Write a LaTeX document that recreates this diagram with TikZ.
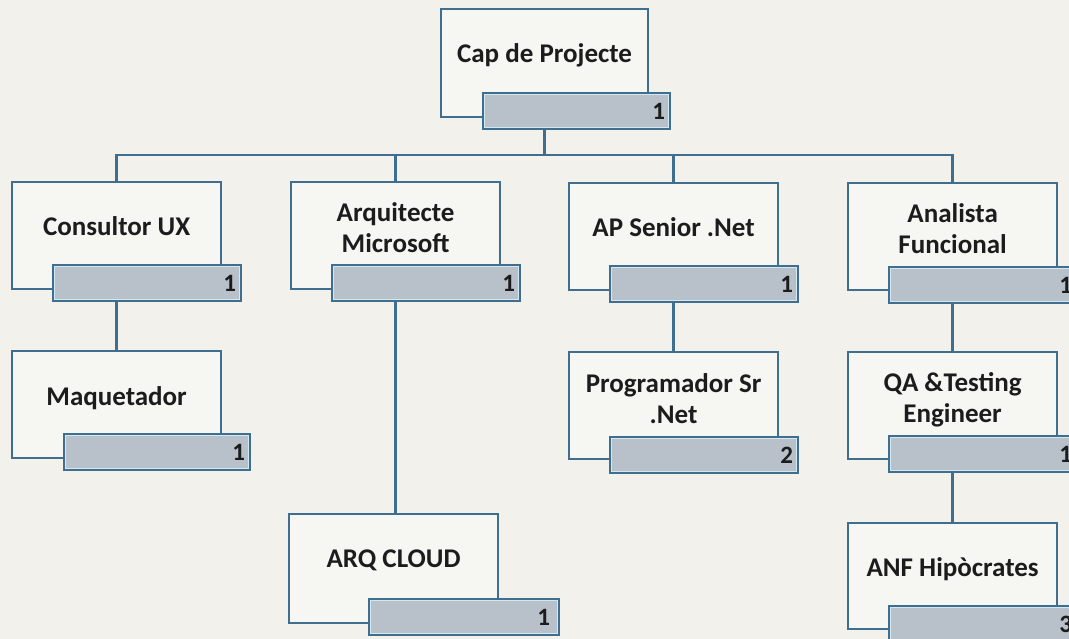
\documentclass[tikz,border=0pt]{standalone}
\usepackage{fontspec}
\setmainfont{Carlito}
\usetikzlibrary{calc}
\definecolor{bg}{HTML}{F2F1EC}
\definecolor{boxfill}{HTML}{F6F6F3}
\definecolor{edge}{HTML}{3F6E8E}
\definecolor{barfill}{HTML}{B8C1CA}
\definecolor{barhl}{HTML}{D2E9F2}
\definecolor{ink}{HTML}{1C1C1C}
\begin{document}
\begin{tikzpicture}[x=1pt,y=-1pt,
  rolebox/.style={draw=edge, line width=2.2pt, fill=boxfill, minimum width=209pt,
    minimum height=107pt, inner sep=0pt, anchor=north west},
  title/.style={font=\fontsize{27}{31}\selectfont\bfseries, text=ink, align=center, inner sep=0pt},
  countbar/.style={draw=edge, line width=2.2pt, fill=barfill, minimum height=36pt,
    text width=178pt, inner xsep=5pt, inner ysep=0pt, align=right, anchor=north west,
    font=\fontsize{25}{25}\selectfont\bfseries, text=ink,
    path picture={\draw[barhl, line width=4.4pt] (path picture bounding box.north west)
      rectangle (path picture bounding box.south east);}},
  conn/.style={draw=edge, line width=2.4pt}]
\useasboundingbox (0,0) rectangle (1069,639);
\clip (0,0) rectangle (1069,639);
\fill[bg] (0,0) rectangle (1069,639);

% boxes and count bars
\node[rolebox, minimum width=207pt, minimum height=108pt] (cap) at (440,8) {};
\node[countbar, text width=177pt] (capbar) at (482,92) {1};

\node[rolebox] (cux) at (11,181) {};
\node[countbar] (cuxbar) at (52,264) {1};
\node[rolebox] (arq) at (290,181) {};
\node[countbar] (arqbar) at (331,264) {1};
\node[rolebox] (aps) at (568,182) {};
\node[countbar] (apsbar) at (609,265) {1};
\node[rolebox] (afun) at (847,182) {};
\node[countbar] (afunbar) at (888,266) {1};

\node[rolebox] (maq) at (11,350) {};
\node[countbar, text width=176pt] (maqbar) at (63,433) {1};
\node[rolebox] (prog) at (568,351) {};
\node[countbar] (progbar) at (609,436) {2};
\node[rolebox] (qa) at (847,351) {};
\node[countbar] (qabar) at (888,435) {1};

\node[rolebox, minimum height=109pt] (cloud) at (288,513) {};
\node[countbar, text width=172pt, inner xsep=9pt] (cloudbar) at (368,598) {1};
\node[rolebox, minimum height=106pt] (anf) at (847,522) {};
\node[countbar] (anfbar) at (888,605) {3};

% titles
\node[title, yshift=8pt] (t-cap) at (cap.center) {Cap de Projecte};
\node[title, yshift=9pt] (t-cux) at (cux.center) {Consultor UX};
\node[title, yshift=8pt] (t-arq) at (arq.center) {Arquitecte\\Microsoft};
\node[title, yshift=9pt] (t-aps) at (aps.center) {AP Senior .Net};
\node[title, yshift=8pt] (t-afun) at (afun.center) {Analista\\Funcional};
\node[title, yshift=6pt] (t-maq) at (maq.center) {Maquetador};
\node[title, yshift=7pt] (t-prog) at (prog.center) {Programador Sr\\.Net};
\node[title, yshift=6pt] (t-qa) at (qa.center) {QA \&Testing\\Engineer};
\node[title, yshift=8pt] (t-cloud) at (cloud.center) {ARQ CLOUD};
\node[title, yshift=7pt] (t-anf) at (anf.center) {ANF Hipòcrates};

% connectors
\coordinate (bus) at (0,155);
\draw[conn] (capbar.south -| cap.south) -- (bus -| cap.south);
\draw[conn] (cux.north) |- (bus -| cap.south) -| (afun.north);
\draw[conn] (arq.north) -- (arq.north |- bus);
\draw[conn] (aps.north) -- (aps.north |- bus);
\draw[conn] (cuxbar.south -| cux.south) -- (maq.north);
\draw[conn] (arqbar.south -| arq.south) -- (cloud.north -| arq.south);
\draw[conn] (apsbar.south -| aps.south) -- (prog.north);
\draw[conn] (afunbar.south -| afun.south) -- (qa.north);
\draw[conn] (qabar.south -| qa.south) -- (anf.north);
\end{tikzpicture}
\end{document}
